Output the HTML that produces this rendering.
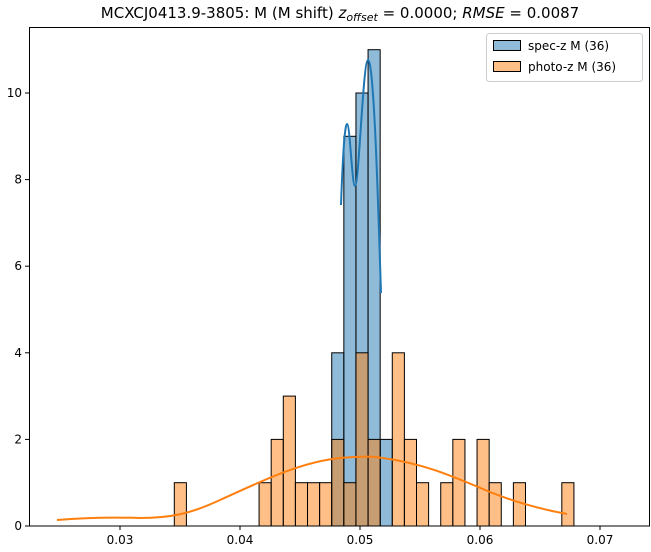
<!DOCTYPE html>
<html><head><meta charset="utf-8"><style>body{margin:0;background:#fff}svg{display:block}</style></head><body>
<svg width="651" height="552" xmlns="http://www.w3.org/2000/svg" font-family="DejaVu Sans, Liberation Sans, sans-serif">
<rect width="651" height="552" fill="#fff"/>
<g id="bars" stroke="#000" stroke-width="1"></g>
<script>
var g=document.getElementById('bars');
function e(k){return 174.3+12.11*k}
function bar(k,n,c){if(!n)return;var h=n*43.3;var r=document.createElementNS('http://www.w3.org/2000/svg','rect');
r.setAttribute('x',e(k));r.setAttribute('y',526-h);r.setAttribute('width',12.11);r.setAttribute('height',h);r.setAttribute('fill',c);r.setAttribute('fill-opacity',0.5);g.appendChild(r);}
var blue={13:4,14:9,15:10,16:11,17:2};
for(var k in blue)bar(+k,blue[k],'#1f77b4');
var or={0:1,7:1,8:2,9:3,10:1,11:1,12:1,13:2,14:1,15:4,16:2,18:4,19:2,20:1,22:1,23:2,25:2,26:1,28:1,32:1};
for(var k in or)bar(+k,or[k],'#ff7f0e');
</script>
<path d="M341,205 C343,150 345,124 347,124 C350,124 352,186 355,186 C359,186 363,60 368,60 C374,60 378,200 381,293" fill="none" stroke="#1f77b4" stroke-width="2"/>
<path d="M57,520 C80,518 110,517 140,518 C170,518 190,514 220,500 C260,482 300,462 340,458 C355,457 365,456 375,457 C420,462 450,475 490,492 C520,504 545,510 567,514" fill="none" stroke="#ff7f0e" stroke-width="2"/>
<rect x="29.5" y="27.5" width="620" height="498.5" fill="none" stroke="#000" stroke-width="1"/>
<g font-size="12" fill="#000" text-anchor="middle">
<line x1="120" y1="526" x2="120" y2="530" stroke="#000"/><text x="120" y="544">0.03</text>
<line x1="240" y1="526" x2="240" y2="530" stroke="#000"/><text x="240" y="544">0.04</text>
<line x1="360" y1="526" x2="360" y2="530" stroke="#000"/><text x="360" y="544">0.05</text>
<line x1="480" y1="526" x2="480" y2="530" stroke="#000"/><text x="480" y="544">0.06</text>
<line x1="600" y1="526" x2="600" y2="530" stroke="#000"/><text x="600" y="544">0.07</text>
</g>
<g font-size="12" fill="#000" text-anchor="end">
<line x1="25" y1="526" x2="29" y2="526" stroke="#000"/><text x="22" y="530">0</text>
<line x1="25" y1="439.4" x2="29" y2="439.4" stroke="#000"/><text x="22" y="443.4">2</text>
<line x1="25" y1="352.8" x2="29" y2="352.8" stroke="#000"/><text x="22" y="356.8">4</text>
<line x1="25" y1="266.2" x2="29" y2="266.2" stroke="#000"/><text x="22" y="270.2">6</text>
<line x1="25" y1="179.6" x2="29" y2="179.6" stroke="#000"/><text x="22" y="183.6">8</text>
<line x1="25" y1="93" x2="29" y2="93" stroke="#000"/><text x="22" y="97">10</text>
</g>
<text x="340" y="18" font-size="15" text-anchor="middle">MCXCJ0413.9-3805: M (M shift) <tspan font-style="italic">z</tspan><tspan font-style="italic" font-size="11" dy="3">offset</tspan><tspan dy="-3"> = 0.0000; </tspan><tspan font-style="italic">RMSE</tspan> = 0.0087</text>
<rect x="486.5" y="33.5" width="156" height="48" rx="3" fill="#fff" fill-opacity="0.8" stroke="#ccc"/>
<rect x="493.5" y="40.5" width="27" height="10" fill="#1f77b4" fill-opacity="0.5" stroke="#000"/>
<text x="528" y="50" font-size="12">spec-z M (36)</text>
<rect x="493.5" y="61.5" width="27" height="10" fill="#ff7f0e" fill-opacity="0.5" stroke="#000"/>
<text x="528" y="71" font-size="12">photo-z M (36)</text>
</svg>
</body></html>
